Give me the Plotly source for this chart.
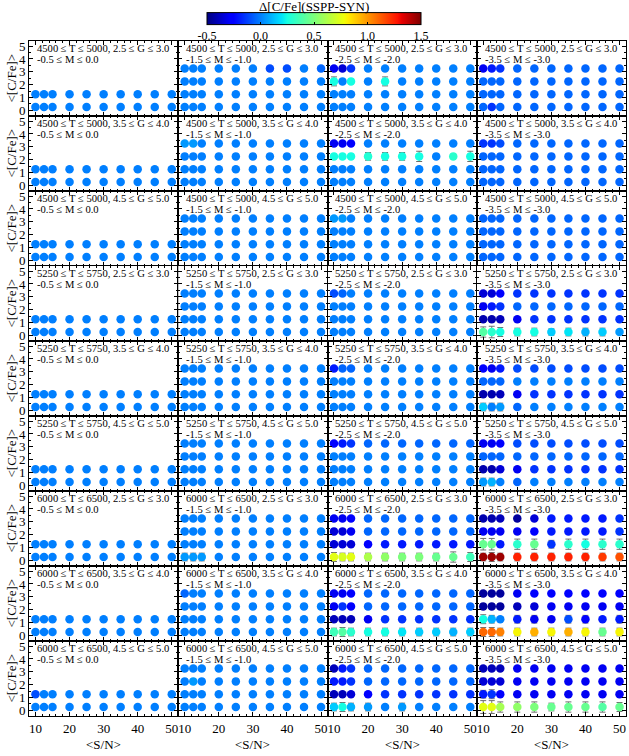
import plotly.graph_objects as go
from plotly.subplots import make_subplots

# ---------------- data ----------------
SN = [10, 12.5, 15, 20, 25, 30, 35, 40, 45, 50]
CFE_LEVELS = [0.25, 1.25, 2.25, 3.25]          # <[C/Fe]> grid (bottom -> top)
SN_TICKS = [10, 20, 30, 40, 50]
CFE_TICKS = [0, 1, 2, 3, 4, 5]
CBAR_TICKS = [-0.5, 0.0, 0.5, 1.0, 1.5]
CBAR_LABELS = ["-0.5", "0.0", "0.5", "1.0", "1.5"]

TEFF_LABELS = ["4500 ≤ T ≤ 5000", "5250 ≤ T ≤ 5750", "6000 ≤ T ≤ 6500"]
LOGG_LABELS = ["2.5 ≤ G ≤ 3.0", "3.5 ≤ G ≤ 4.0", "4.5 ≤ G ≤ 5.0"]
FEH_LABELS = ["-0.5 ≤ M ≤ 0.0", "-1.5 ≤ M ≤ -1.0", "-2.5 ≤ M ≤ -2.0", "-3.5 ≤ M ≤ -3.0"]

# Delta[C/Fe] per panel: list of levels (bottom -> top), each with 10 S/N values
# ---- row 1 : 4500-5000, G 2.5-3.0
d_r1c1 = [[0, 0, 0, 0, 0, 0, 0, 0, 0, 0],
          [0, 0, 0, 0, 0, 0, 0, 0, 0, 0]]
d_r1c2 = [[0, 0, 0, 0, 0, 0, 0, 0, 0, 0],
          [0, 0, 0, 0, 0, 0, 0, 0, 0, 0],
          [0, 0, 0, 0, 0, 0, 0, 0, 0, 0],
          [0, 0, 0, 0, 0, 0, -0.1, -0.1, 0, -0.05]]
d_r1c3 = [[0, 0, 0, 0, 0, 0, 0, 0, 0, 0],
          [0, 0, 0, 0, 0, 0, 0, 0, 0, 0],
          [0.25, 0, 0.25, 0, 0.25, 0, 0, 0, 0, 0],
          [-0.3, -0.35, -0.15, 0, 0, 0, 0, 0, 0, 0]]
e_r1c3 = [[0, 0, 0, 0, 0, 0, 0, 0, 0, 0],
          [0, 0, 0, 0, 0, 0, 0, 0, 0, 0],
          [0.35, 0, 0, 0, 0.35, 0, 0, 0, 0, 0],
          [0, 0, 0, 0, 0, 0, 0, 0, 0, 0]]
d_r1c4 = [[-0.05, -0.15, -0.05, -0.05, -0.05, -0.05, -0.05, -0.05, -0.05, -0.05],
          [-0.05, -0.05, -0.05, -0.05, -0.05, -0.05, -0.05, -0.05, -0.05, -0.05],
          [-0.05, -0.05, -0.05, -0.05, -0.05, -0.05, -0.05, -0.05, -0.05, -0.05],
          [-0.3, -0.2, -0.15, -0.05, -0.05, -0.05, -0.05, -0.05, -0.05, -0.05]]
# ---- row 2 : 4500-5000, G 3.5-4.0
d_r2c1 = [[0, 0, 0, 0, 0, 0, 0, 0, 0, 0],
          [0, 0, 0, 0, 0, 0, 0, 0, 0, 0]]
d_r2c2 = [[0, 0, 0, 0, 0, 0, 0, 0, 0, 0],
          [0, 0, 0, 0, 0, 0, 0, 0, 0, 0],
          [0, 0, 0, 0, 0, 0, 0, 0, 0, 0],
          [0.05, 0.05, 0, 0, 0, 0, 0, 0, 0, 0]]
d_r2c3 = [[0, 0, 0, 0, 0, 0, 0, 0, 0, 0],
          [0, 0, 0, 0, 0, 0, 0, 0, 0, 0],
          [0.25, 0.25, 0.25, 0.28, 0.25, 0.25, 0.25, 0, 0.3, 0.25],
          [-0.3, -0.3, -0.25, 0, 0, 0, 0, 0, 0, 0]]
e_r2c3 = [[0, 0, 0, 0, 0, 0, 0, 0, 0, 0],
          [0, 0, 0, 0, 0, 0, 0, 0, 0, 0],
          [0.15, 0.1, 0.1, 0.3, 0.3, 0.3, 0.4, 0, 0, 0.4],
          [0, 0, 0, 0, 0, 0, 0, 0, 0, 0]]
d_r2c4 = [[-0.05, -0.05, -0.05, -0.05, -0.05, -0.05, -0.05, -0.05, -0.05, -0.05],
          [-0.05, -0.05, -0.05, -0.05, -0.05, -0.05, -0.05, -0.05, -0.05, -0.05],
          [-0.05, -0.05, -0.05, -0.05, -0.05, -0.05, -0.05, -0.05, -0.05, -0.05],
          [-0.15, -0.15, -0.1, -0.05, -0.05, -0.05, -0.05, -0.05, -0.05, -0.05]]
# ---- row 3 : 4500-5000, G 4.5-5.0
d_r3c1 = [[0, 0, 0, 0, 0, 0, 0, 0, 0, 0],
          [0, 0, 0, 0, 0, 0, 0, 0, 0, 0]]
d_r3c2 = [[0, 0, 0, 0, 0, 0, 0, 0, 0, 0],
          [0, 0, 0, 0, 0, 0, 0, 0, 0, 0],
          [0, 0, 0, 0, 0, 0, 0, 0, 0, 0],
          [0, 0, 0, 0, 0, 0, 0, 0, 0, 0]]
d_r3c3 = [[0, 0, 0, 0, 0, 0, 0, 0, 0, 0],
          [0, 0, 0, 0, 0, 0, 0, 0, 0, 0],
          [0, 0, 0, 0, 0, 0, 0, 0, 0, 0],
          [0.05, 0.05, 0, 0, 0, 0, 0, 0, 0, 0]]
d_r3c4 = [[-0.05, -0.05, -0.05, -0.05, -0.05, -0.05, -0.05, -0.05, -0.05, -0.05],
          [-0.05, -0.05, -0.05, -0.05, -0.05, -0.05, -0.05, -0.05, -0.05, -0.05],
          [-0.05, -0.05, -0.05, -0.05, -0.05, -0.05, -0.05, -0.05, -0.05, -0.05],
          [-0.05, -0.05, -0.05, -0.05, -0.05, -0.05, -0.05, -0.05, -0.05, -0.05]]
# ---- row 4 : 5250-5750, G 2.5-3.0
d_r4c1 = [[0, 0, 0, 0, 0, 0, 0, 0, 0, 0],
          [0, 0, 0, 0, 0, 0, 0, 0, 0, 0]]
d_r4c2 = [[0, 0, 0, 0, 0, 0, 0, 0, 0, 0],
          [0, 0, 0, 0, 0, 0, 0, 0, 0, 0],
          [0, 0, 0, 0, 0, 0, 0, 0, 0, 0],
          [0, 0, 0, 0, 0, 0, 0, 0, 0, 0]]
d_r4c3 = [[0, 0, 0, 0, 0, 0, 0, 0, 0, 0],
          [0, 0, 0, 0, 0, 0, 0, 0, 0, 0],
          [0, 0, 0, 0, 0, 0, 0, 0, 0, 0],
          [-0.1, -0.05, 0, 0, 0, 0, 0, 0, 0, 0]]
d_r4c4 = [[0.4, 0.3, 0.25, 0.25, 0.25, 0.15, 0.2, 0.1, 0.15, 0.05],
          [-0.42, -0.42, -0.4, -0.3, -0.15, -0.15, -0.15, -0.15, -0.15, -0.15],
          [-0.3, -0.2, -0.15, -0.05, -0.05, -0.05, -0.05, -0.05, -0.05, -0.05],
          [-0.35, -0.35, -0.25, -0.15, -0.15, -0.15, -0.15, -0.15, -0.15, -0.15]]
e_r4c4 = [[0.4, 0.45, 0.35, 0.3, 0.3, 0.25, 0.3, 0.3, 0.3, 0],
          [0, 0, 0, 0, 0, 0, 0, 0, 0, 0],
          [0.25, 0, 0, 0, 0, 0, 0, 0, 0, 0],
          [0, 0, 0, 0, 0, 0, 0, 0, 0, 0]]
# ---- row 5 : 5250-5750, G 3.5-4.0
d_r5c1 = [[0, 0, 0, 0, 0, 0, 0, 0, 0, 0],
          [0, 0, 0, 0, 0, 0, 0, 0, 0, 0]]
d_r5c2 = [[0, 0, 0, 0, 0, 0, 0, 0, 0, 0],
          [0, 0, 0, 0, 0, 0, 0, 0, 0, 0],
          [0, 0, 0, 0, 0, 0, 0, 0, 0, 0],
          [0, 0, 0, 0, 0, 0, 0, 0, 0, 0]]
d_r5c3 = [[0, 0, 0, 0, 0, 0, 0, 0, 0, 0],
          [0, 0, 0, 0, 0, 0, 0, 0, 0, 0],
          [0, 0, 0, 0, 0, 0, 0, 0, 0, 0],
          [-0.2, -0.05, -0.05, 0, 0, 0, 0, 0, 0, 0]]
d_r5c4 = [[0.15, 0.0, 0.05, -0.05, 0, 0, 0, 0, 0, 0],
          [-0.42, -0.42, -0.4, -0.3, -0.15, -0.15, -0.15, -0.15, -0.15, -0.15],
          [-0.05, -0.05, -0.05, 0, 0, 0, 0, 0, 0, 0],
          [-0.25, -0.3, -0.2, -0.1, -0.1, -0.1, -0.1, -0.1, -0.1, -0.1]]
e_r5c4 = [[0.3, 0.3, 0.3, 0.2, 0, 0, 0, 0, 0, 0],
          [0, 0, 0, 0, 0, 0, 0, 0, 0, 0],
          [0, 0, 0, 0, 0, 0, 0, 0, 0, 0],
          [0, 0, 0, 0, 0, 0, 0, 0, 0, 0]]
# ---- row 6 : 5250-5750, G 4.5-5.0
d_r6c1 = [[0, 0, 0, 0, 0, 0, 0, 0, 0, 0],
          [0, 0, 0, 0, 0, 0, 0, 0, 0, 0]]
d_r6c2 = [[0, 0, 0, 0, 0, 0, 0, 0, 0, 0],
          [0, 0, 0, 0, 0, 0, 0, 0, 0, 0],
          [0, 0, 0, 0, 0, 0, 0, 0, 0, 0],
          [0, 0, 0, 0, 0, 0, 0, 0, 0, 0]]
d_r6c3 = [[0, 0, 0, 0, 0, 0, 0, 0, 0, 0],
          [0, 0, 0, 0, 0, 0, 0, 0, 0, 0],
          [0, 0, 0, 0, 0, 0, 0, 0, 0, 0],
          [-0.25, -0.2, -0.15, -0.05, -0.05, -0.05, -0.05, -0.05, -0.05, -0.05]]
d_r6c4 = [[0.05, 0.1, 0.0, -0.05, 0, 0, 0, 0, 0, 0],
          [-0.42, -0.42, -0.35, -0.3, -0.15, -0.15, -0.15, -0.15, -0.15, -0.15],
          [-0.05, -0.05, -0.05, -0.05, -0.05, -0.05, -0.05, -0.05, -0.05, -0.05],
          [-0.3, -0.3, -0.25, -0.1, -0.1, -0.1, -0.1, -0.1, -0.1, -0.1]]
e_r6c4 = [[0.3, 0.3, 0, 0, 0, 0, 0, 0, 0, 0],
          [0, 0, 0, 0, 0, 0, 0, 0, 0, 0],
          [0, 0, 0, 0, 0, 0, 0, 0, 0, 0],
          [0, 0, 0, 0, 0, 0, 0, 0, 0, 0]]
# ---- row 7 : 6000-6500, G 2.5-3.0
d_r7c1 = [[0, 0, 0, 0, 0, 0, 0, 0, 0, 0],
          [0, 0, 0, 0, 0, 0, 0, 0, 0, 0]]
d_r7c2 = [[0.05, 0.05, 0.05, 0, 0, 0, 0, 0, 0, 0],
          [0, 0, 0, 0, 0, 0, 0, 0, 0, 0],
          [0, 0, 0, 0, 0, 0, 0, 0, 0, 0],
          [0, 0, 0, 0, 0, 0, 0, 0, 0, 0]]
e_r7c2 = [[0.3, 0.3, 0.3, 0, 0, 0, 0, 0, 0, 0],
          [0, 0, 0, 0, 0, 0, 0, 0, 0, 0],
          [0, 0, 0, 0, 0, 0, 0, 0, 0, 0],
          [0, 0, 0, 0, 0, 0, 0, 0, 0, 0]]
d_r7c3 = [[0.75, 0.72, 0.75, 0.62, 0.55, 0.5, 0.5, 0.45, 0.45, 0.35],
          [-0.35, -0.35, -0.35, -0.25, -0.2, -0.2, -0.2, -0.2, -0.2, -0.2],
          [-0.35, -0.35, -0.3, -0.05, -0.05, -0.05, -0.05, -0.05, -0.05, -0.05],
          [-0.3, -0.3, -0.25, -0.05, -0.05, -0.05, -0.05, -0.05, -0.05, -0.05]]
e_r7c3 = [[0.35, 0.3, 0.3, 0.3, 0.3, 0.3, 0.3, 0.3, 0.4, 0.35],
          [0, 0, 0, 0, 0, 0, 0, 0, 0, 0],
          [0, 0, 0, 0, 0, 0, 0, 0, 0, 0],
          [0, 0, 0, 0, 0, 0, 0, 0, 0, 0]]
d_r7c4 = [[1.45, 1.45, 1.45, 1.25, 1.25, 1.25, 1.25, 1.25, 1.2, 1.15],
          [0.45, 0.45, -0.2, 0.3, 0.45, -0.15, 0.3, 0.25, 0.3, 0.3],
          [-0.3, -0.3, -0.3, -0.3, -0.25, -0.2, -0.2, -0.2, -0.2, -0.15],
          [-0.42, -0.42, -0.4, -0.45, -0.35, -0.2, -0.2, -0.2, -0.2, -0.15]]
e_r7c4 = [[0.3, 0.35, 0.3, 0.3, 0.3, 0.3, 0.3, 0.3, 0.3, 0.3],
          [0.45, 0.45, 0.2, 0.4, 0.4, 0.3, 0.4, 0.4, 0.4, 0.4],
          [0, 0, 0, 0, 0, 0, 0, 0, 0, 0],
          [0, 0, 0, 0, 0, 0, 0, 0, 0, 0]]
# ---- row 8 : 6000-6500, G 3.5-4.0
d_r8c1 = [[0, 0, 0, 0, 0, 0, 0, 0, 0, 0],
          [0, 0, 0, 0, 0, 0, 0, 0, 0, 0]]
d_r8c2 = [[0, 0, 0, 0, 0, 0, 0, 0, 0, 0],
          [0, 0, 0, 0, 0, 0, 0, 0, 0, 0],
          [0, 0, 0, 0, 0, 0, 0, 0, 0, 0],
          [-0.05, 0, 0, 0, 0, 0, 0, 0, 0, 0]]
d_r8c3 = [[0.35, 0.4, 0.3, 0.25, 0.25, 0.2, 0.15, 0.15, 0.1, 0.15],
          [-0.4, -0.4, -0.4, -0.3, -0.15, -0.15, -0.15, -0.15, -0.15, -0.15],
          [-0.3, -0.15, -0.25, -0.05, -0.05, -0.05, -0.05, -0.05, -0.05, -0.05],
          [-0.3, -0.3, -0.25, -0.05, -0.05, -0.05, -0.05, -0.05, -0.05, -0.05]]
e_r8c3 = [[0.3, 0.35, 0.3, 0.3, 0.3, 0.3, 0.3, 0.3, 0.3, 0.3],
          [0, 0, 0, 0, 0, 0, 0, 0, 0, 0],
          [0, 0, 0, 0, 0, 0, 0, 0, 0, 0],
          [0, 0, 0, 0, 0, 0, 0, 0, 0, 0]]
d_r8c4 = [[1.1, 1.1, 1.05, 0.8, 0.95, 0.8, 0.95, 0.8, 0.45, 0.8],
          [0.25, 0.1, 0.0, -0.2, -0.3, -0.3, -0.1, -0.25, -0.2, -0.2],
          [-0.45, -0.45, -0.45, -0.4, -0.35, -0.3, -0.3, -0.3, -0.3, -0.3],
          [-0.45, -0.45, -0.45, -0.3, -0.25, -0.25, -0.25, -0.25, -0.25, -0.25]]
e_r8c4 = [[0.35, 0.35, 0.3, 0.3, 0.3, 0.3, 0.3, 0.3, 0.3, 0.3],
          [0.35, 0.3, 0, 0.3, 0.3, 0, 0.3, 0.3, 0, 0.3],
          [0, 0, 0, 0, 0, 0, 0, 0, 0, 0],
          [0, 0, 0, 0, 0, 0, 0, 0, 0, 0]]
# ---- row 9 : 6000-6500, G 4.5-5.0
d_r9c1 = [[0, 0, 0, 0, 0, 0, 0, 0, 0, 0],
          [-0.1, 0, 0, 0, 0, 0, 0, 0, 0, 0]]
d_r9c2 = [[0, 0, 0, 0, 0, 0, 0, 0, 0, 0],
          [0, 0, 0, 0, 0, 0, 0, 0, 0, 0],
          [0, 0.05, 0, 0, 0, 0, 0, 0, 0, 0],
          [0, 0, 0, 0, 0, 0, 0, 0, 0, 0]]
d_r9c3 = [[0.15, 0.25, 0.1, 0.05, 0.0, 0.05, 0, 0, 0, 0],
          [-0.4, -0.4, -0.35, -0.25, -0.15, -0.15, -0.15, -0.15, -0.15, -0.15],
          [-0.2, -0.2, -0.15, -0.05, -0.05, -0.05, -0.05, -0.05, -0.05, -0.05],
          [-0.4, -0.2, -0.15, -0.05, -0.05, -0.05, -0.05, -0.05, -0.05, -0.05]]
e_r9c3 = [[0.3, 0.35, 0.3, 0.3, 0, 0.3, 0, 0, 0, 0],
          [0, 0, 0, 0, 0, 0, 0, 0, 0, 0],
          [0, 0, 0, 0, 0, 0, 0, 0, 0, 0],
          [0, 0, 0, 0, 0, 0, 0, 0, 0, 0]]
d_r9c4 = [[0.75, 0.75, 0.6, 0.55, 0.5, 0.45, 0.45, 0.45, 0.4, 0.45],
          [-0.2, -0.15, -0.25, -0.3, -0.3, -0.3, -0.3, -0.3, -0.3, -0.3],
          [-0.35, -0.35, -0.35, -0.3, -0.3, -0.3, -0.3, -0.3, -0.3, -0.3],
          [-0.4, -0.4, -0.4, -0.3, -0.3, -0.3, -0.3, -0.3, -0.3, -0.3]]
e_r9c4 = [[0.5, 0.5, 0.4, 0.4, 0.4, 0.3, 0.4, 0.4, 0.4, 0.35],
          [0.3, 0.35, 0, 0, 0, 0, 0, 0, 0, 0],
          [0.25, 0, 0, 0, 0, 0, 0, 0, 0, 0],
          [0, 0, 0, 0, 0, 0, 0, 0, 0, 0]]

DELTAS = [
    [d_r1c1, d_r1c2, d_r1c3, d_r1c4],
    [d_r2c1, d_r2c2, d_r2c3, d_r2c4],
    [d_r3c1, d_r3c2, d_r3c3, d_r3c4],
    [d_r4c1, d_r4c2, d_r4c3, d_r4c4],
    [d_r5c1, d_r5c2, d_r5c3, d_r5c4],
    [d_r6c1, d_r6c2, d_r6c3, d_r6c4],
    [d_r7c1, d_r7c2, d_r7c3, d_r7c4],
    [d_r8c1, d_r8c2, d_r8c3, d_r8c4],
    [d_r9c1, d_r9c2, d_r9c3, d_r9c4],
]
ERRORS = [
    [None, None, e_r1c3, None],
    [None, None, e_r2c3, None],
    [None, None, None, None],
    [None, None, None, e_r4c4],
    [None, None, None, e_r5c4],
    [None, None, None, e_r6c4],
    [None, e_r7c2, e_r7c3, e_r7c4],
    [None, None, e_r8c3, e_r8c4],
    [None, None, e_r9c3, e_r9c4],
]

# ---------------- style ----------------
W, H = 629, 756
ML, MR, MT, MB = 29, 3, 41, 40
FONT = "Liberation Serif"
JET = [
    [0.0, "rgb(0,0,128)"], [0.11, "rgb(0,0,255)"], [0.125, "rgb(0,0,255)"],
    [0.34, "rgb(0,219,255)"], [0.35, "rgb(0,229,247)"], [0.375, "rgb(21,255,226)"],
    [0.64, "rgb(239,255,8)"], [0.66, "rgb(255,236,0)"], [0.89, "rgb(255,19,0)"],
    [0.91, "rgb(232,0,0)"], [1.0, "rgb(128,0,0)"],
]

NR, NC = 9, 4
fig = make_subplots(rows=NR, cols=NC, horizontal_spacing=0, vertical_spacing=0)

for r in range(NR):
    for c in range(NC):
        dvals = DELTAS[r][c]
        evals = ERRORS[r][c]
        xs, ys, cs, es = [], [], [], []
        for li, lvl in enumerate(dvals):
            for k, sn in enumerate(SN):
                xs.append(sn)
                ys.append(CFE_LEVELS[li])
                cs.append(lvl[k])
                es.append(evals[li][k] if evals is not None else 0)
        fig.add_trace(go.Scatter(
            x=xs, y=ys, mode="markers",
            marker=dict(size=8.5, color=cs, coloraxis="coloraxis", line=dict(width=0)),
            error_y=dict(type="data", array=es, visible=True, color="rgb(110,110,110)",
                         thickness=1, width=3),
            showlegend=False, hoverinfo="skip",
        ), row=r + 1, col=c + 1)

        fig.update_xaxes(
            range=[8.1, 51.9], tickvals=SN_TICKS, ticks="inside", ticklen=4, tickwidth=1,
            tickcolor="black", mirror="allticks", showline=True, linecolor="black",
            linewidth=1, showgrid=False, zeroline=False,
            minor=dict(dtick=2, ticks="inside", ticklen=2, tickcolor="black", showgrid=False),
            showticklabels=(r == NR - 1),
            tickfont=dict(family=FONT, size=13, color="black"),
            row=r + 1, col=c + 1)
        fig.update_yaxes(
            range=[-0.45, 5.4], tickvals=CFE_TICKS, ticks="inside", ticklen=4, tickwidth=1,
            tickcolor="black", mirror="allticks", showline=True, linecolor="black",
            linewidth=1, showgrid=False, zeroline=False,
            minor=dict(dtick=0.5, ticks="inside", ticklen=2, tickcolor="black", showgrid=False),
            showticklabels=(c == 0),
            tickfont=dict(family=FONT, size=13, color="black"),
            row=r + 1, col=c + 1)

        ti = r // 3
        gi = r % 3
        idx = r * NC + c + 1
        xd = "x domain" if idx == 1 else f"x{idx} domain"
        yd = "y domain" if idx == 1 else f"y{idx} domain"
        fig.add_annotation(text=f"{TEFF_LABELS[ti]}, {LOGG_LABELS[gi]}", xref=xd, yref=yd,
                           x=0.04, y=1.0, xanchor="left", yanchor="top", showarrow=False,
                           font=dict(family=FONT, size=10.6, color="black"))
        fig.add_annotation(text=FEH_LABELS[c], xref=xd, yref=yd,
                           x=0.04, y=0.855, xanchor="left", yanchor="top", showarrow=False,
                           font=dict(family=FONT, size=10.6, color="black"))

PW = W - ML - MR
PH = H - MT - MB
for r in range(NR):
    yc = 1 - (r + 0.5) / NR
    fig.add_annotation(text="&lt;[C/Fe]&gt;", xref="paper", yref="paper",
                       x=(11 - ML) / PW, y=yc, textangle=-90, showarrow=False,
                       xanchor="center", yanchor="middle",
                       font=dict(family=FONT, size=13, color="black"))
for c in range(NC):
    fig.add_annotation(text="&lt;S/N&gt;", xref="paper", yref="paper",
                       x=(c + 0.5) / NC, y=-(745 - (H - MB)) / PH, showarrow=False,
                       xanchor="center", yanchor="middle",
                       font=dict(family=FONT, size=13, color="black"))
# colour-bar title
fig.add_annotation(text="Δ[C/Fe](SSPP-SYN)", xref="paper", yref="paper",
                   x=(314 - ML) / PW, y=(H - MB - 7) / PH, showarrow=False,
                   xanchor="center", yanchor="middle",
                   font=dict(family=FONT, size=13, color="black"))

fig.update_layout(
    width=W, height=H, margin=dict(l=ML, r=MR, t=MT, b=MB, autoexpand=False),
    paper_bgcolor="white", plot_bgcolor="white",
    font=dict(family=FONT, size=13, color="black"),
    coloraxis=dict(
        colorscale=JET, cmin=-0.5, cmax=1.5,
        colorbar=dict(
            orientation="h", x=(314 - ML) / PW, xanchor="center",
            y=(H - MB - 47) / PH, yanchor="bottom", len=214, lenmode="pixels",
            thickness=12, xpad=0, ypad=0, outlinecolor="black", outlinewidth=1,
            tickvals=CBAR_TICKS, ticktext=CBAR_LABELS, ticks="inside", ticklen=3,
            tickcolor="black", tickfont=dict(family=FONT, size=12, color="black"),
        ),
    ),
)

fig.write_html("out.html", config={"displayModeBar": False},
               post_script="document.body.style.margin='0px';")
